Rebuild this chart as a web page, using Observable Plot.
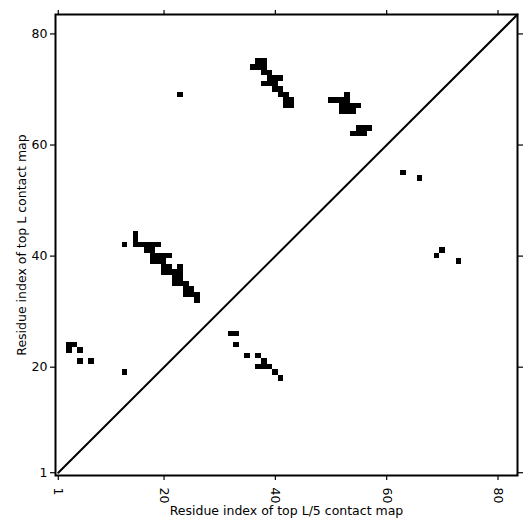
<!DOCTYPE html>
<html>
<head>
<meta charset="utf-8">
<script src="https://cdn.jsdelivr.net/npm/d3@7"></script>
<script src="https://cdn.jsdelivr.net/npm/@observablehq/plot@0.6"></script>
<style>
  html, body { margin: 0; padding: 0; background: white; }
</style>
</head>
<body>
<div id="chart"></div>
<script>
// Residue pairs (x = residue index on top L/5 map axis, y = residue index on top L map axis)
const residueX = [
  3, 4, 3, 5, 5, 7, 13,
  13,
  15, 15,
  15, 16, 17, 18, 19,
  17, 18,
  18, 19, 20, 21,
  18, 19, 20,
  20, 21, 23,
  20, 21, 22, 23,
  22, 23,
  22, 23, 24,
  24, 25,
  24, 25, 26,
  26,
  32, 33, 33, 35, 37, 38, 37, 38, 39, 40, 41,
  37, 38, 36, 37, 38, 38, 39, 39, 40, 41, 38, 39, 40, 40, 41, 41, 42, 42, 43, 42, 43,
  23,
  53, 50, 51, 52, 53, 52, 53, 54, 55, 52, 53, 54,
  55, 56, 57, 54, 55, 56,
  63, 66, 70, 69, 73
];
const residueY = [
  24, 24, 23, 23, 21, 21, 19,
  42,
  44, 43,
  42, 42, 42, 42, 42,
  41, 41,
  40, 40, 40, 40,
  39, 39, 39,
  38, 38, 38,
  37, 37, 37, 37,
  36, 36,
  35, 35, 35,
  34, 34,
  33, 33, 33,
  32,
  26, 26, 24, 22, 22, 21, 20, 20, 20, 19, 18,
  75, 75, 74, 74, 74, 73, 73, 72, 72, 72, 71, 71, 71, 70, 70, 69, 69, 68, 68, 67, 67,
  69,
  69, 68, 68, 68, 68, 67, 67, 67, 67, 66, 66, 66,
  63, 63, 63, 62, 62, 62,
  55, 54, 41, 40, 39
];
const axisDomain = [0.5, 83.5];
const diagonal = [1, 83.5];
const tickValues = [1, 20, 40, 60, 80];
const xLabel = "Residue index of top L/5 contact map";
const yLabel = "Residue index of top L contact map";

const contacts = residueX.map((x, i) => ({x, y: residueY[i]}));

const chart = Plot.plot({
  width: 531,
  height: 531,
  marginLeft: 55,
  marginRight: 14,
  marginTop: 14,
  marginBottom: 56,
  style: {fontFamily: "DejaVu Sans", fontSize: "12.5px", color: "black", background: "white"},
  x: {domain: axisDomain},
  y: {domain: axisDomain},
  marks: [
    Plot.rect(contacts, {
      x1: d => d.x - 0.5, x2: d => d.x + 0.5,
      y1: d => d.y - 0.5, y2: d => d.y + 0.5,
      fill: "black", shapeRendering: "crispEdges"
    }),
    Plot.line(diagonal, {x: d => d, y: d => d, stroke: "black", strokeWidth: 2}),
    Plot.frame({stroke: "black", strokeWidth: 2}),
    Plot.axisX(tickValues, {anchor: "bottom", tickSize: 5, tickRotate: 90, tickPadding: 7, label: null, strokeWidth: 1.2}),
    Plot.axisX(tickValues, {anchor: "top", tickSize: 5, fill: "none", label: null, strokeWidth: 1.2}),
    Plot.axisY(tickValues, {anchor: "left", tickSize: 5, tickPadding: 3, label: null, strokeWidth: 1.2}),
    Plot.axisY(tickValues, {anchor: "right", tickSize: 5, fill: "none", label: null, strokeWidth: 1.2}),
    Plot.text([xLabel], {frameAnchor: "bottom", text: d => d, dy: 35, textAnchor: "middle", lineAnchor: "middle", fontSize: 12.5, fill: "black"}),
    Plot.text([yLabel], {frameAnchor: "left", text: d => d, dx: -34, rotate: -90, textAnchor: "middle", lineAnchor: "middle", fontSize: 12.5, fill: "black"})
  ]
});
document.getElementById("chart").appendChild(chart);
</script>
</body>
</html>
